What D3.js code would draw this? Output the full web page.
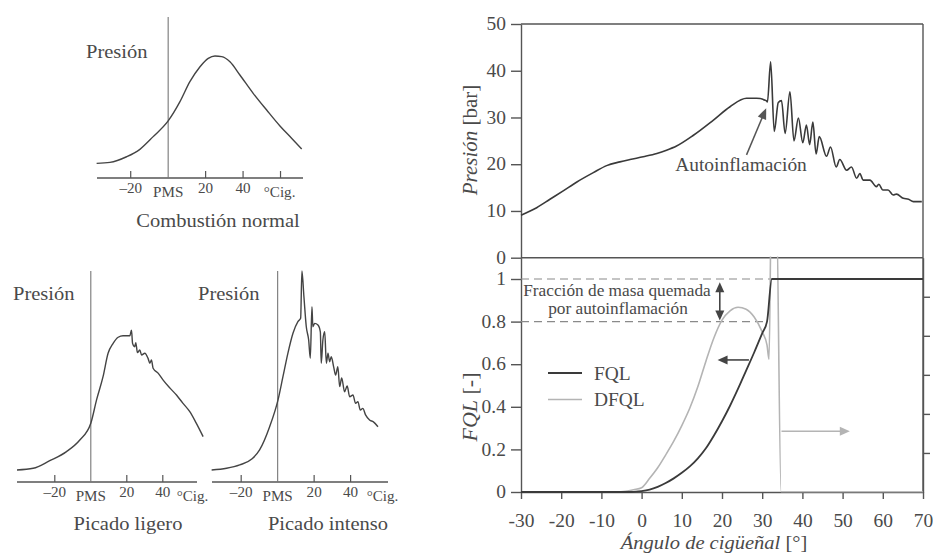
<!DOCTYPE html>
<html><head><meta charset="utf-8">
<script src="https://cdn.jsdelivr.net/npm/d3@7"></script>
<style>
body{margin:0;background:#fff}
text{font-family:"Liberation Serif","Times New Roman",serif;fill:#4a4a4a}
</style>
</head><body>
<svg id="c" width="933" height="556"></svg>
<script>
// ---------------- DATA ----------------
// Right chart: pressure vs crank angle
const pressAngle = [-30,-26.1,-22.8,-19.5,-16.1,-12,-8.7,-5.4,-2.9,0.4,3.8,6.2,8.7,12.9,17.8,22,26.1,28.6,31,31.3,32.1,33,34,34.8,35.7,36.9,37.9,39,40.1,41,41.8,42.6,43.4,44.2,46,47,48.4,49.3,51,52.2,53.5,54.3,55.1,56.8,58.4,59,60,61.3,62.6,63.4,65.1,66.4,67.6,69.7];
const pressBar   = [9.1,10.7,12.5,14.3,16.2,18.2,19.7,20.5,21.0,21.6,22.3,23.0,23.9,26.2,29.4,32.3,34.1,34.1,33.6,33.3,41.9,27.0,33.2,33.6,26.6,35.5,25.0,29.9,24.6,28.4,24.2,29.0,22.2,25.9,21.7,23.7,19.4,21.0,18.7,19.4,17.0,18.0,16.6,16.6,15.2,15.7,14.5,14.5,13.4,13.6,12.7,12.5,12.0,12.0];
// Burned mass fraction
const fqlAngle = [-30,-4,-2,0,2,4,6,8,10,12,14,16,18,20,22,24,26,28,30,31.2,32.4,70];
const fqlValue = [0,0,0.001,0.004,0.011,0.024,0.042,0.064,0.09,0.12,0.158,0.205,0.265,0.332,0.405,0.485,0.57,0.655,0.745,0.80,1.0,1.0];
// Rate of burned mass fraction (right axis)
const dfqlAngle = [-30,-6,-4,-2,0,2,4,6,8,10,12,14,16,18,20,22,24,26,28,30,31.2,31.7,32.3,33.5,34.7,70];
const dfqlValue = [0,0,0.0002,0.0006,0.0011,0.0035,0.0062,0.0095,0.013,0.017,0.0215,0.027,0.0335,0.0395,0.044,0.0464,0.0473,0.0468,0.0448,0.041,0.0376,0.034,0.075,0.075,0,0];
// Axis ticks
const angleTicks = [-30,-20,-10,0,10,20,30,40,50,60,70];
const pressTicks = [0,10,20,30,40,50];
const fqlTicks = [0,0.2,0.4,0.6,0.8,1];
const dfqlTicks = [0.01,0.02,0.03,0.04,0.05];

// Left small charts
const normalAngle = [-38.2,-31.1,-22.2,-15.1,-8,0.1,6.3,11.6,17,21.4,25,28.6,33,38.3,45.4,52.6,59.7,65.9,71.3];
const normalPress = [9.1,9.7,13.2,17.8,25.7,35.6,47.4,59.8,69.1,74.3,75.8,75.4,72.2,64,52.6,42.2,32.3,24.7,18];
const lightAngle = [-41,-32,-22.8,-13.5,-6.1,0,3.2,6.8,9.6,12.4,15.2,17.9,21.7,22.6,23.2,24.4,25,25.9,27.2,28.2,30,31.8,32.8,33.7,34.6,37.5,40.2,44,47.6,51,55,58.5,62.4];
const lightPress = [5.7,6.5,10.1,14.4,19.9,27.8,38.9,49.9,61,65.7,68.6,69.3,69.3,72,65.7,64.1,66,61.3,62.6,60.2,61,58.6,56.3,57.8,53.9,51.5,48.3,44.5,41.2,37.5,33.3,28,21.5];
const intenseAngle = [-36.2,-28,-20.8,-14,-9.9,-4.4,0.2,2.9,5.6,8.4,11.1,12.6,13.3,14.4,15.7,17,17.9,18.8,19.3,20.3,22.1,23.4,23.9,24.8,25.8,26.7,27.6,28.5,29.4,30.7,31.8,33,34,35.1,36.7,38.1,39.5,41.3,42.7,44,45.3,46.7,48.2,50.4,52.5,55];
const intensePress = [5.7,6.5,8.1,11,15.2,26.2,38.9,49.9,61,70.5,76,77.6,100,87.8,73.6,67.3,58.6,83.1,73.6,75.2,74.4,71.2,56.3,67.3,71.2,56.3,61,57,59.4,54.6,50.7,54.6,45.2,49.3,42.8,45.5,40.4,41.2,37.3,38.1,34.1,34.9,31.8,29.4,28.5,26.2];
const smallTickValues = [-20,0,20,40,60];
const smallTickLabels = ["\u201320","PMS","20","40","\u00b0Cig."];

// ---------------- DRAW ----------------
const svg = d3.select("#c");
const ST = 1.08; // horizontal stretch of the scanned type
const FONT = '"Liberation Serif","Times New Roman",serif';
const INK = "#3a3a3a", AX = "#555", LIGHT = "#b4b4b4";

function txt(g, x, y, parts, o = {}) {
  const t = g.append("text")
    .attr("transform", o.rot ? `translate(${x},${y}) rotate(${o.rot})` : `translate(${x},${y}) scale(${ST},1)`)
    .style("font-family", FONT)
    .attr("font-size", o.size || 18)
    .attr("text-anchor", o.anchor || "start");
  (Array.isArray(parts) ? parts : [[parts]]).forEach(p => {
    const s = t.append("tspan").text(p[0]);
    if (p[1]) s.attr("font-style", "italic");
  });
  return t;
}
function arrowHead(g, x, y, ang, col, len = 9, w = 4.5) {
  const c = Math.cos(ang), s = Math.sin(ang);
  const bx = x - c * len, by = y - s * len;
  g.append("path")
    .attr("d", `M${x},${y}L${bx - s * w},${by + c * w}L${bx + s * w},${by - c * w}Z`)
    .attr("fill", col);
}

// ---- Right chart scales ----
const xR = d3.scaleLinear().domain([-30, 70]).range([521, 923]);
const yP = d3.scaleLinear().domain([0, 50]).range([257.7, 24]);
const yF = d3.scaleLinear().domain([0, 1.1]).range([492, 257.7]);
const yD = d3.scaleLinear().domain([0, 0.06]).range([492, 257.7]);

const R = svg.append("g");
function styleAxis(a) {
  a.attr("font-family", null);
  a.selectAll("path,line").attr("stroke", AX).attr("stroke-width", 1.4);
  a.selectAll("text").attr("font-size", 18).style("fill", "#4a4a4a").style("font-family", FONT);
}
const aP = R.append("g").attr("transform", "translate(521,0)")
  .call(d3.axisLeft(yP).tickValues(pressTicks).tickSize(10).tickPadding(4).tickSizeOuter(0));
styleAxis(aP);
const aF = R.append("g").attr("transform", "translate(521,0)")
  .call(d3.axisLeft(yF).tickValues(fqlTicks).tickSize(10).tickPadding(4).tickSizeOuter(0)
    .tickFormat(d => (d === 0 || d === 1) ? String(d) : d.toFixed(1)));
styleAxis(aF);
const aD = R.append("g").attr("transform", "translate(923,0)")
  .call(d3.axisRight(yD).tickValues(dfqlTicks).tickSize(7).tickFormat("").tickSizeOuter(0));
styleAxis(aD);
const aX = R.append("g").attr("transform", "translate(0,492)")
  .call(d3.axisBottom(xR).tickValues(angleTicks).tickSize(7).tickSizeOuter(0).tickFormat(d => String(d)));
styleAxis(aX);
aX.selectAll("text").attr("dy", 0).attr("y", 35);
[aP, aF, aX].forEach(a => a.selectAll("text").attr("transform", `scale(${ST},1)`));

// frame
const frame = [[521, 24, 923, 24], [923, 24, 923, 492], [521, yP(0), 923, yP(0)]];
frame.forEach(f => R.append("line").attr("x1", f[0]).attr("y1", f[1]).attr("x2", f[2]).attr("y2", f[3])
  .attr("stroke", AX).attr("stroke-width", 1.4));

// dashed reference lines
R.append("line").attr("x1", xR(-30)).attr("x2", xR(32.4)).attr("y1", yF(1)).attr("y2", yF(1))
  .attr("stroke", "#8a8a8a").attr("stroke-width", 1.2).attr("stroke-dasharray", "8,5");
R.append("line").attr("x1", xR(-30)).attr("x2", xR(31.2)).attr("y1", yF(0.8)).attr("y2", yF(0.8))
  .attr("stroke", "#8a8a8a").attr("stroke-width", 1.2).attr("stroke-dasharray", "8,5");

svg.append("defs").append("clipPath").attr("id", "low")
  .append("rect").attr("x", 521).attr("y", 256.5).attr("width", 402).attr("height", 236);

// DFQL
R.append("path").attr("clip-path", "url(#low)")
  .attr("d", d3.line().x((d, i) => xR(dfqlAngle[i])).y(d => yD(d)).curve(d3.curveMonotoneX)(dfqlValue))
  .attr("fill", "none").attr("stroke", LIGHT).attr("stroke-width", 1.6);
// FQL
R.append("path")
  .attr("d", d3.line().x((d, i) => xR(fqlAngle[i])).y(d => yF(d)).curve(d3.curveMonotoneX)(fqlValue))
  .attr("fill", "none").attr("stroke", INK).attr("stroke-width", 1.8);
// Pressure
R.append("path")
  .attr("d", d3.line().x((d, i) => xR(pressAngle[i])).y(d => yP(d)).curve(d3.curveMonotoneX)(pressBar))
  .attr("fill", "none").attr("stroke", INK).attr("stroke-width", 1.6);

// Annotations
{
  const x1 = xR(26.1), y1 = yP(22.0), x2 = xR(31.0), y2 = yP(32.0);
  const ang = Math.atan2(y2 - y1, x2 - x1);
  R.append("line").attr("x1", x1).attr("y1", y1).attr("x2", x2 - Math.cos(ang) * 7).attr("y2", y2 - Math.sin(ang) * 7)
    .attr("stroke", "#555").attr("stroke-width", 1.5);
  arrowHead(R, x2, y2, ang, "#555", 11, 4.5);
  txt(R, 741, 171, "Autoinflamación", { size: 18, anchor: "middle" });
}
{
  const x = xR(19.45);
  R.append("line").attr("x1", x).attr("x2", x).attr("y1", yF(0.985) + 8).attr("y2", yF(0.81) - 8)
    .attr("stroke", "#444").attr("stroke-width", 1.6);
  arrowHead(R, x, yF(0.985), -Math.PI / 2, "#444", 10, 4.5);
  arrowHead(R, x, yF(0.805), Math.PI / 2, "#444", 10, 4.5);
  txt(R, 617, 296, "Fracción de masa quemada", { size: 16, anchor: "middle" });
  txt(R, 618, 314, "por autoinflamación", { size: 16, anchor: "middle" });
}
{
  const y = yF(0.62);
  R.append("line").attr("x1", xR(26.7)).attr("x2", xR(18.9) + 8).attr("y1", y).attr("y2", y)
    .attr("stroke", "#444").attr("stroke-width", 1.6);
  arrowHead(R, xR(18.9), y, Math.PI, "#444", 10, 4.5);
}
{
  const y = yF(0.285);
  R.append("line").attr("x1", xR(34.8)).attr("x2", xR(51.8) - 8).attr("y1", y).attr("y2", y)
    .attr("stroke", LIGHT).attr("stroke-width", 1.6);
  arrowHead(R, xR(51.8), y, 0, LIGHT, 10, 4.5);
}
// Legend
R.append("line").attr("x1", 548).attr("x2", 582).attr("y1", 373).attr("y2", 373).attr("stroke", INK).attr("stroke-width", 1.8);
R.append("line").attr("x1", 548).attr("x2", 582).attr("y1", 399.5).attr("y2", 399.5).attr("stroke", LIGHT).attr("stroke-width", 1.6);
txt(R, 594, 380, "FQL", { size: 18 });
txt(R, 594, 406, "DFQL", { size: 18 });

// Axis titles
txt(R, 477, 140, [["Presión", 1], [" [bar]"]], { size: 21, anchor: "middle", rot: -90 });
txt(R, 477, 407, [["FQL", 1], [" [-]"]], { size: 22, anchor: "middle", rot: -90 });
txt(R, 714, 549, [["Ángulo de cigüeñal", 1], [" [°]"]], { size: 19, anchor: "middle" });

// ---- Left small charts ----
function smallChart(cfg) {
  const g = svg.append("g");
  const x = d3.scaleLinear().domain(cfg.xd).range(cfg.xr);
  const y = d3.scaleLinear().domain([0, 100]).range(cfg.yr);
  g.append("line").attr("x1", cfg.xr[0]).attr("x2", cfg.xr[1]).attr("y1", y(0)).attr("y2", y(0))
    .attr("stroke", AX).attr("stroke-width", 1.3);
  g.append("line").attr("x1", x(0)).attr("x2", x(0)).attr("y1", cfg.yr[1]).attr("y2", y(0))
    .attr("stroke", "#777").attr("stroke-width", 1.1);
  smallTickValues.forEach((v, i) => {
    if (v !== 0 && v < cfg.xd[1] - 2) {
      g.append("line").attr("x1", x(v)).attr("x2", x(v)).attr("y1", y(0)).attr("y2", y(0) - 7)
        .attr("stroke", AX).attr("stroke-width", 1.2);
    }
    const isWord = (v === 0 || v === 60);
    const lx = v === 60 ? x(cfg.cig) : x(v);
    txt(g, lx, y(0) + (isWord ? 19 : 15), smallTickLabels[i], { size: 14, anchor: "middle" });
  });
  g.append("path")
    .attr("d", d3.line().x((d, i) => x(cfg.ang[i])).y(d => y(d)).curve(d3.curveMonotoneX)(cfg.p))
    .attr("fill", "none").attr("stroke", "#444").attr("stroke-width", 1.4);
  txt(g, cfg.pres[0], cfg.pres[1], "Presión", { size: 19 });
  txt(g, cfg.title[0], cfg.title[1], cfg.title[2], { size: 19, anchor: "middle" });
}
smallChart({ xd: [-38, 72], xr: [97, 303], yr: [178, 17], cig: 59.5, ang: normalAngle, p: normalPress,
  pres: [86, 58], title: [218, 227, "Combustión normal"] });
smallChart({ xd: [-41, 59], xr: [17, 197], yr: [482, 271], cig: 56.5, ang: lightAngle, p: lightPress,
  pres: [13, 300], title: [128, 530, "Picado ligero"] });
smallChart({ xd: [-36, 60.5], xr: [212, 388], yr: [482, 271], cig: 57.5, ang: intenseAngle, p: intensePress,
  pres: [198, 300], title: [328, 530, "Picado intenso"] });
</script>
</body></html>
